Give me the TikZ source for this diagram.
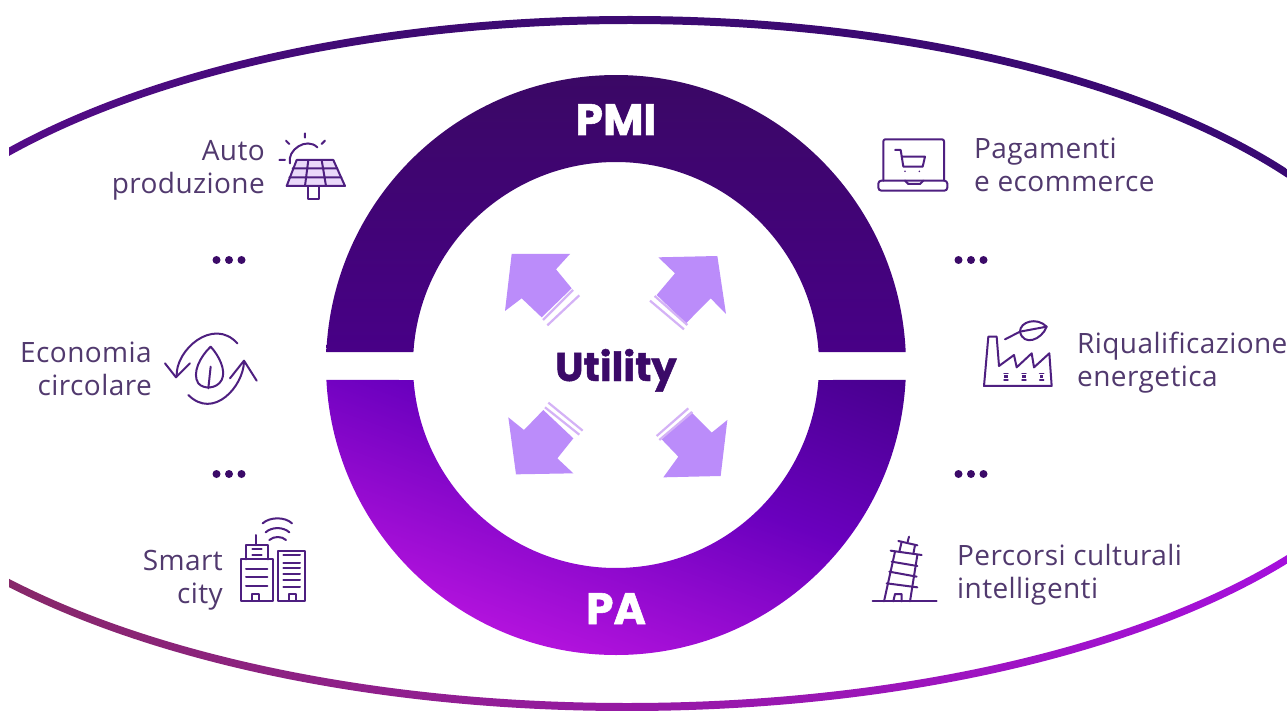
\documentclass[tikz,border=0pt]{standalone}
\usepackage{fontspec}
\setmainfont{Open Sans}[LetterSpace=1.5,Ligatures=NoCommon]
\newfontfamily\heavy{Poppins}[BoldFeatures={FakeBold=1.2}]
\usetikzlibrary{calc}
\definecolor{txt}{HTML}{51396E}
\definecolor{ico}{HTML}{4E1F80}
\definecolor{deep}{HTML}{3B0A68}
\definecolor{arr}{HTML}{BB8CFA}
\definecolor{arrl}{HTML}{D4B2F6}
\definecolor{ta}{HTML}{7D0FAA}
\definecolor{tb}{HTML}{6A0C9E}
\definecolor{tc}{HTML}{3E0A72}
\definecolor{td}{HTML}{350873}
\definecolor{ba}{HTML}{A03A5C}
\definecolor{bb}{HTML}{872869}
\definecolor{bc}{HTML}{9619A5}
\definecolor{bd}{HTML}{A50FDC}
\definecolor{be}{HTML}{870FE1}
\definecolor{ra}{HTML}{3A0864}
\definecolor{rb}{HTML}{480087}
\definecolor{rc}{HTML}{430088}
\definecolor{rd}{HTML}{6A00BE}
\definecolor{re}{HTML}{C818E6}
\pgfdeclarehorizontalshading{topband}{100bp}{color(0bp)=(ta);color(10bp)=(tb);color(40bp)=(tc);color(100bp)=(td)}
\pgfdeclarehorizontalshading{botband}{100bp}{color(0bp)=(ba);color(25bp)=(bb);color(50bp)=(bc);color(75bp)=(bd);color(100bp)=(be)}
\pgfdeclareverticalshading{paring}{100bp}{color(0bp)=(re);color(22bp)=(re);color(58bp)=(rd);color(85bp)=(rc);color(100bp)=(rc)}
\tikzset{
  lab/.style={text=txt,font=\fontsize{28}{33}\selectfont,inner sep=0pt,anchor=base west,align=left},
  labr/.style={text=txt,font=\fontsize{28}{33}\selectfont,inner sep=0pt,anchor=base east,align=right},
  dotmark/.style={fill=deep,draw=none},
  iconline/.style={draw=ico,line width=2pt,line join=round,line cap=round,fill=none},
  arrowbody/.style={fill=arr,draw=none},
  arrowstripe/.style={draw=arrl,line width=2.2pt},
  zoomed/.style={x=0.33333pt,y=-0.33333pt},
}
\begin{document}
\begin{tikzpicture}[x=1pt,y=1pt]
\useasboundingbox (0,0) rectangle (1287,-711);
\fill[white] (0,0) rectangle (1287,-711);
% outer ellipse, top
\begin{scope}
 \clip (9,0) rectangle (1287,-363);
 \clip (630,-365) ++(0:794) arc[start angle=0,end angle=180,x radius=794,y radius=349] -- ++(8,0) arc[start angle=180,end angle=0,x radius=786,y radius=341] -- cycle;
 \shade[shading=topband] (9,0) rectangle (1287,-363);
\end{scope}
% outer ellipse, bottom
\begin{scope}
 \clip (9,-363) rectangle (1287,-711);
 \clip (627,-365) ++(180:806) arc[start angle=180,end angle=360,x radius=806,y radius=346] -- ++(-8,0) arc[start angle=360,end angle=180,x radius=798,y radius=338] -- cycle;
 \shade[shading=botband] (9,-363) rectangle (1287,-711);
\end{scope}
% ring
\begin{scope}[shift={(616,-365)}]
 \shade[top color=ra,bottom color=rb] (2.57:290) arc[start angle=2.57,end angle=177.43,radius=290] -- (176.33:203) arc[start angle=176.33,end angle=3.67,radius=203] -- cycle;
 \shade[shading=paring,shading angle=-20] (-2.96:290) arc[start angle=-2.96,end angle=-177.04,radius=290] -- (-175.76:203) arc[start angle=-175.76,end angle=-4.24,radius=203] -- cycle;
\end{scope}
\node[text=white,font=\heavy\bfseries\fontsize{44}{44}\selectfont,inner sep=0pt,anchor=base] (pmi) at (616,-135) {PMI};
\node[text=white,font=\heavy\bfseries\fontsize{44}{44}\selectfont,inner sep=0pt,anchor=base] (pa) at (616,-624) {PA};
\node[text=deep,font=\heavy\bfseries\fontsize{40}{40}\selectfont,inner sep=0pt,anchor=base] (utility) at (616,-381) {Utility};
% central arrows
\begin{scope}[shift={(480,-230)},zoomed]
 \fill[arrowbody] (95,72)--(270,72)--(228,118)--(275,175)--(185,262)--(125,205)--(75,243)--cycle;
 \draw[arrowstripe] (279,180)--(189,270); \draw[arrowstripe] (298,196)--(202,286);
 \fill[arrowbody] (535,82)--(712,78)--(738,252)--(692,205)--(618,280)--(530,195)--(585,130)--cycle;
 \draw[arrowstripe] (524,198)--(622,285); \draw[arrowstripe] (510,212)--(612,298);
 \fill[arrowbody] (85,562)--(132,600)--(190,540)--(280,625)--(232,685)--(280,730)--(108,733)--cycle;
 \draw[arrowstripe] (195,532)--(298,614); \draw[arrowstripe] (205,518)--(308,602);
 \fill[arrowbody] (742,570)--(695,608)--(632,545)--(545,628)--(595,680)--(550,742)--(722,738)--cycle;
 \draw[arrowstripe] (625,535)--(530,618); \draw[arrowstripe] (637,546)--(538,630);
\end{scope}
% labels
\node[labr] (auto) at (265,-194) {Auto\\produzione};
\node[labr] (econ) at (152,-395) {Economia\\circolare};
\node[labr] (smart) at (223,-603) {Smart\\city};
\node[lab] (pag) at (974,-192) {Pagamenti\\e ecommerce};
\node[lab] (riq) at (1077,-386) {Riqualificazione\\energetica};
\node[lab] (perc) at (957,-598) {Percorsi culturali\\intelligenti};
% dots
\foreach \px/\py in {229/260,229/474,971/260,971/474}{
 \foreach \dx in {-12.5,0,12.5}{\fill[dotmark] (\px+\dx,-\py) circle (4);}
}
% solar icon
\begin{scope}[shift={(0,-100)},zoomed]
 \fill[arrl!50] (890,180)--(1000,180)--(1035,258)--(860,258)--cycle;
 \draw[iconline] (890,180)--(1000,180)--(1035,258)--(860,258)--cycle;
 \draw[iconline] (878,205)--(1012,205) (868,232)--(1024,232) (925,180)--(915,258) (965,180)--(978,258);
 \draw[iconline] (925,258) rectangle (958,298);
 \draw[iconline] (870,190) .. controls (860,150) and (920,110) .. (952,142);
 \draw[iconline] (915,100)--(915,113) (858,122)--(868,132) (975,122)--(965,132) (838,180)--(855,180);
\end{scope}
% circular economy icon
\begin{scope}[shift={(0,-100)},zoomed]
 \draw[iconline] (530,830) .. controls (525,750) and (640,650) .. (712,730);
 \draw[iconline] (495,790)--(528,832)--(570,790);
 \draw[iconline] (732,785) .. controls (730,860) and (640,960) .. (565,885);
 \draw[iconline] (690,835)--(732,782)--(770,842);
 \draw[iconline] (632,740) .. controls (600,770) and (575,820) .. (595,850) .. controls (610,868) and (650,868) .. (665,840) .. controls (680,810) and (655,765) .. (632,740);
 \draw[iconline] (632,800)--(625,865);
\end{scope}
% smart city icon
\begin{scope}[shift={(0,-440)},zoomed]
 \draw[iconline] (722,358) rectangle (818,482);
 \draw[iconline] (738,358)--(738,315)--(805,315)--(805,358);
 \draw[iconline] (767,285)--(767,315);
 \draw[iconline] (757,328)--(785,328) (757,345)--(785,345);
 \draw[iconline] (738,388)--(802,388) (738,410)--(802,410) (738,438)--(802,438);
 \draw[iconline] (755,482)--(755,462)--(778,462)--(778,482);
 \draw[iconline] (835,332) rectangle (915,482);
 \draw[iconline] (850,345)--(900,345) (850,368)--(900,368) (850,385)--(900,385) (850,402)--(900,402) (850,420)--(900,420) (850,440)--(900,440);
 \draw[iconline] (868,482)--(868,462)--(888,462)--(888,482);
 \draw[iconline] (788,250) .. controls (810,230) and (855,230) .. (876,250);
 \draw[iconline] (797,277) .. controls (815,260) and (850,260) .. (868,277);
 \draw[iconline] (808,300) .. controls (822,288) and (845,288) .. (858,300);
\end{scope}
% laptop icon
\begin{scope}[shift={(860,-110)},zoomed]
 \draw[iconline,rounded corners=2pt] (70,212)--(70,88)--(252,88)--(252,212);
 \draw[iconline,rounded corners=3pt] (55,212)--(262,212)--(262,242)--(55,242)--cycle;
 \draw[iconline] (135,212)--(145,222)--(180,222)--(190,212);
 \draw[iconline] (105,120)--(122,120)--(130,170)--(188,170)--(195,140)--(126,140);
 \fill[ico] (135,184) circle (2.6) (178,184) circle (2.6);
\end{scope}
% factory icon
\begin{scope}[shift={(860,-110)},zoomed]
 \draw[iconline] (372,828)--(385,680)--(410,680)--(417,768)--(462,735)--(470,772)--(515,730)--(522,772)--(568,730)--(575,828)--cycle;
 \draw[iconline] (435,688)--(480,665)--(560,650);
 \draw[iconline] (480,665) .. controls (480,635) and (530,620) .. (560,650) .. controls (545,690) and (490,710) .. (480,665);
 \foreach \wx in {438,492,545}{\draw[iconline,line width=1.4pt] (\wx-6,790)--(\wx+6,790) (\wx-6,810)--(\wx+6,810);\fill[ico] (\wx-5,795) rectangle (\wx+5,803);}
\end{scope}
% tower icon
\begin{scope}[shift={(860,-440)},zoomed]
 \draw[iconline] (38,484)--(230,484);
 \draw[iconline] (147,290)--(143,305);
 \draw[iconline] (115,303)--(172,316);
 \draw[iconline] (125,305)--(118,335) (165,315)--(160,342);
 \draw[iconline] (92,332)--(185,345);
 \draw[iconline] (105,335)--(72,484) (172,345)--(150,484);
 \draw[iconline] (95,365)--(172,378) (88,395)--(170,410) (80,430)--(172,442);
 \draw[iconline] (100,484)--(105,462)--(125,462)--(125,484);
\end{scope}
\end{tikzpicture}
\end{document}
